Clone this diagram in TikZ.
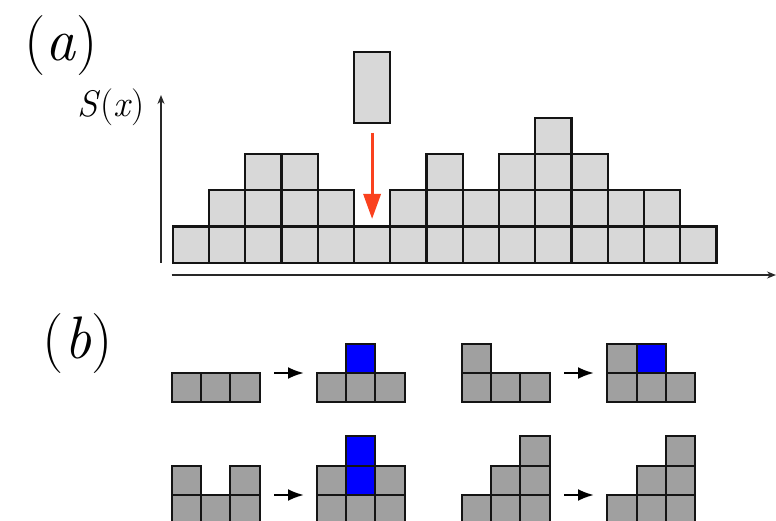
\documentclass[tikz,border=0pt]{standalone}
\usepackage{fontspec}
\usetikzlibrary{arrows.meta}
\definecolor{lightcell}{RGB}{216,216,216}
\definecolor{darkcell}{RGB}{160,160,160}
\definecolor{bluecell}{RGB}{0,0,255}
\definecolor{edgecol}{RGB}{20,20,20}
\definecolor{fallred}{RGB}{250,65,30}
\definecolor{axiscol}{RGB}{40,40,40}
\tikzset{
  acell/.style={fill=lightcell,draw=edgecol,line width=2.3pt},
  bcell/.style={fill=darkcell,draw=edgecol,line width=2.1pt},
  bluebox/.style={fill=bluecell,draw=edgecol,line width=2.1pt},
  axisline/.style={draw=axiscol,line width=1.6pt,-{Stealth[length=9pt,width=7pt]}},
  fallarrow/.style={draw=fallred,line width=3.2pt,-{Triangle[length=25pt,width=17pt]}},
  steparrow/.style={draw=black,line width=2.4pt,-{Latex[length=16pt,width=12pt]}},
  biglabel/.style={inner sep=0pt,font=\fontsize{60}{70}\selectfont},
  axlabel/.style={inner sep=0pt,font=\fontsize{37}{44}\selectfont}
}
\newcommand{\gridcells}[4]{%
  \foreach \ci/\cj in {#4} {
    \draw[#3] ({#1+\ci*29.3},{#2-\cj*29.3}) rectangle ++(29.3,29.3);
  }%
}
\begin{document}
\begin{tikzpicture}[x=1pt,y=-1pt]
\useasboundingbox (0,0) rectangle (776,521);
\clip (0,0) rectangle (776,521);
\fill[white] (0,0) rectangle (776,521);

% labels
\node[biglabel] (lbla) at (61,45.5) {(\textit{a})};
\node[biglabel] (lblb) at (77.5,343.5) {(\textit{b})};
\node[axlabel] (lbls) at (111,107) {\textit{S}(\textit{x})};

% axes
\coordinate (yaxb) at (161,262.7);
\coordinate (yaxt) at (161,95);
\coordinate (xaxl) at (171.7,275);
\coordinate (xaxr) at (776,275);
\draw[axisline] (yaxb) -- (yaxt);
\draw[axisline] (xaxl) -- (xaxr);

% surface of part (a)
\foreach \h [count=\i from 0] in {1,2,3,3,2,1,2,3,2,3,4,3,2,2,1} {
  \foreach \j in {1,...,\h} {
    \draw[acell] ({172.7+\i*36.25},{262.7-\j*36.25}) rectangle ++(36.25,36.25);
  }
}
% falling block
\draw[acell] (354,52) rectangle (390.2,123);
\coordinate (redtop) at (372.1,133);
\coordinate (redtip) at (372.1,219);
\draw[fallarrow] (redtop) -- (redtip);

% part (b), row 1
\gridcells{171.7}{373}{bcell}{0/0,1/0,2/0}
\coordinate (a1s) at (274,373); \coordinate (a1e) at (304,373);
\draw[steparrow] (a1s) -- (a1e);
\gridcells{316.7}{373}{bcell}{0/0,1/0,2/0}
\gridcells{316.7}{373}{bluebox}{1/1}

\gridcells{461.7}{373}{bcell}{0/0,1/0,2/0,0/1}
\coordinate (a2s) at (564,373); \coordinate (a2e) at (594,373);
\draw[steparrow] (a2s) -- (a2e);
\gridcells{607.3}{373}{bcell}{0/0,1/0,2/0,0/1}
\gridcells{607.3}{373}{bluebox}{1/1}

% part (b), row 2
\gridcells{171.7}{495}{bcell}{0/0,1/0,2/0,0/1,2/1}
\coordinate (a3s) at (274,495); \coordinate (a3e) at (304,495);
\draw[steparrow] (a3s) -- (a3e);
\gridcells{316.7}{495}{bcell}{0/0,1/0,2/0,0/1,2/1}
\gridcells{316.7}{495}{bluebox}{1/1,1/2}

\gridcells{461.7}{495}{bcell}{0/0,1/0,2/0,1/1,2/1,2/2}
\coordinate (a4s) at (564,495); \coordinate (a4e) at (594,495);
\draw[steparrow] (a4s) -- (a4e);
\gridcells{607.3}{495}{bcell}{0/0,1/0,2/0,1/1,2/1,2/2}
\end{tikzpicture}
\end{document}
